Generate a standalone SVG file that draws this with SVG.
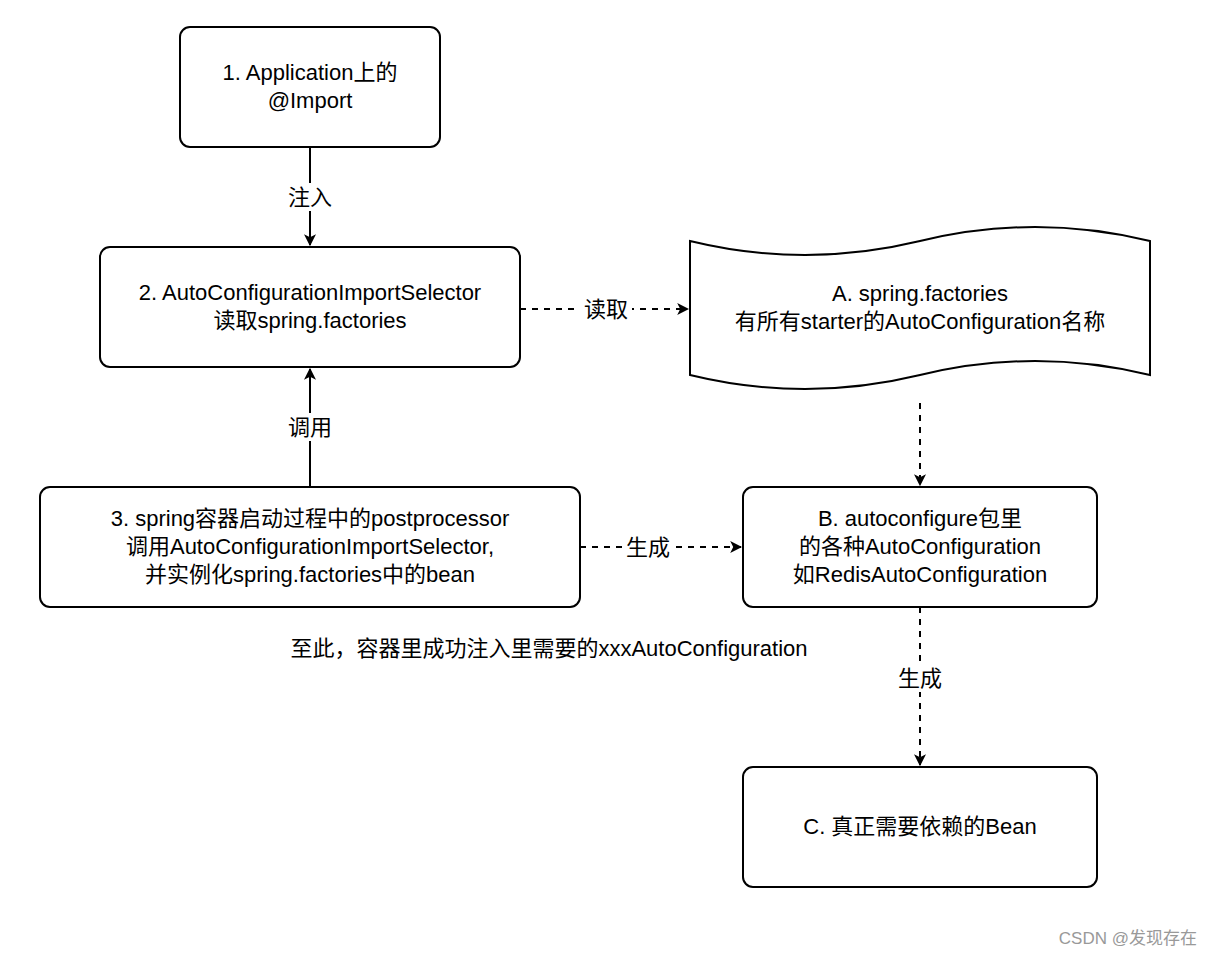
<svg xmlns="http://www.w3.org/2000/svg" width="1212" height="956" viewBox="0 0 1212 956">
<style>
.box{fill:#fff;stroke:#000;stroke-width:2}
.t{font-family:"Liberation Sans","Noto Sans CJK SC",sans-serif;font-size:22px;fill:#000;text-anchor:middle}
.e{fill:none;stroke:#000;stroke-width:2}
.d{stroke-dasharray:6 6}
.lb{fill:#fff}
</style>
<defs>
<marker id="ah" viewBox="0 0 10 10" refX="9" refY="5" markerWidth="12" markerHeight="12" markerUnits="userSpaceOnUse" orient="auto">
<path d="M0,0 L10,5 L0,10 L2.5,5 Z" fill="#000"/>
</marker>
</defs>
<rect width="1212" height="956" fill="#fff"/>
<g id="connectors">
<line class="e" x1="310" y1="147" x2="310" y2="245" marker-end="url(#ah)"/>
<line class="e" x1="310" y1="487" x2="310" y2="369" marker-end="url(#ah)"/>
<line class="e d" x1="520" y1="309" x2="688" y2="309" marker-end="url(#ah)"/>
<line class="e d" x1="580" y1="547" x2="741" y2="547" marker-end="url(#ah)"/>
<line class="e d" x1="920" y1="403" x2="920" y2="485" marker-end="url(#ah)"/>
<line class="e d" x1="920" y1="607" x2="920" y2="765" marker-end="url(#ah)"/>
<rect class="lb" x="284" y="183" width="52" height="28"/>
<text class="t" x="310" y="205">注入</text>
<rect class="lb" x="284" y="413" width="52" height="28"/>
<text class="t" x="310" y="435">调用</text>
<rect class="lb" x="580" y="295" width="52" height="28"/>
<text class="t" x="606" y="317">读取</text>
<rect class="lb" x="622" y="533" width="52" height="28"/>
<text class="t" x="648" y="555">生成</text>
<rect class="lb" x="894" y="664" width="52" height="28"/>
<text class="t" x="920" y="686">生成</text>
</g>
<g id="node1">
<rect class="box" x="180" y="27" width="260" height="120" rx="10"/>
<text class="t" x="310" y="80">1. Application上的</text>
<text class="t" x="310" y="108">@Import</text>
</g>
<g id="node2">
<rect class="box" x="100" y="247" width="420" height="120" rx="10"/>
<text class="t" x="310" y="300">2. AutoConfigurationImportSelector</text>
<text class="t" x="310" y="328">读取spring.factories</text>
</g>
<g id="node3">
<rect class="box" x="40" y="487" width="540" height="120" rx="10"/>
<text class="t" x="310" y="526">3. spring容器启动过程中的postprocessor</text>
<text class="t" x="310" y="554">调用AutoConfigurationImportSelector,</text>
<text class="t" x="310" y="582">并实例化spring.factories中的bean</text>
</g>
<g id="nodeA">
<path class="box" d="M690,241 Q805,269 920,241 Q1035,213 1150,241 L1150,375 Q1035,347 920,375 Q805,403 690,375 Z"/>
<text class="t" x="920" y="301">A. spring.factories</text>
<text class="t" x="920" y="329">有所有starter的AutoConfiguration名称</text>
</g>
<g id="nodeB">
<rect class="box" x="743" y="487" width="354" height="120" rx="10"/>
<text class="t" x="920" y="526">B. autoconfigure包里</text>
<text class="t" x="920" y="554">的各种AutoConfiguration</text>
<text class="t" x="920" y="582">如RedisAutoConfiguration</text>
</g>
<g id="nodeC">
<rect class="box" x="743" y="767" width="354" height="120" rx="10"/>
<text class="t" x="920" y="834">C. 真正需要依赖的Bean</text>
</g>
<g id="note">
<text class="t" x="549" y="656">至此，容器里成功注入里需要的xxxAutoConfiguration</text>
</g>
<g id="watermark">
<text x="1197" y="944" style="font-family:'Liberation Sans','Noto Sans CJK SC',sans-serif;font-size:17px;fill:#999;text-anchor:end">CSDN @发现存在</text>
</g>
</svg>
